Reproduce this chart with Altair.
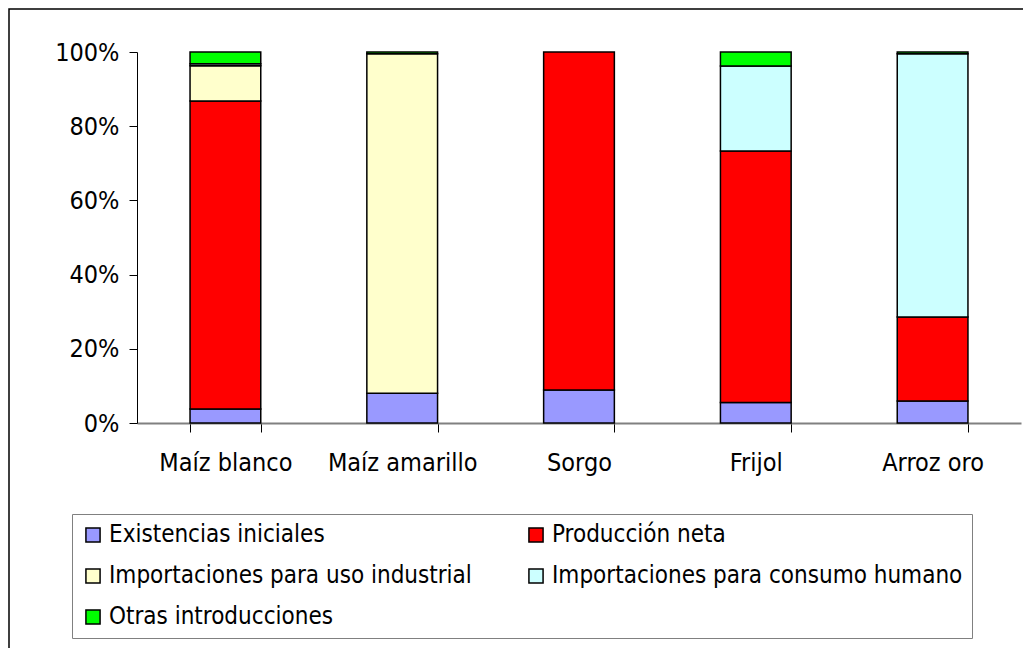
import altair as alt
import pandas as pd

categories = ["Maíz blanco", "Maíz amarillo", "Sorgo", "Frijol", "Arroz oro"]
series = ["Existencias iniciales", "Producción neta", "Importaciones para uso industrial",
          "Importaciones para consumo humano", "Otras introducciones"]
colors = ["#9999FF", "#FF0000", "#FFFFCC", "#CCFFFF", "#00FF00"]
# legend is filled column by column: this order reproduces the reference's row-wise reading
legend_order = [0, 2, 4, 1, 3]

existencias = [3.8, 8.0, 8.9, 5.5, 5.9]
produccion = [83.0, 0.0, 91.1, 67.8, 22.7]
imp_industrial = [9.5, 91.5, 0.0, 0.0, 0.0]
imp_humano = [0.5, 0.0, 0.0, 22.9, 70.9]
otras = [3.2, 0.5, 0.0, 3.8, 0.5]

values = [existencias, produccion, imp_industrial, imp_humano, otras]
rows = []
for si, (s, vals) in enumerate(zip(series, values)):
    for c, v in zip(categories, vals):
        if v > 0:
            rows.append({"cat": c, "serie": s, "v": v, "orden": si})
df = pd.DataFrame(rows)

dom = [series[i] for i in legend_order]
rng = [colors[i] for i in legend_order]

FONT = "'Liberation Sans Narrow', 'Arial Narrow', 'DejaVu Sans Condensed', 'Liberation Sans', sans-serif"
FS = 25
LFS = 24

bars = alt.Chart(df).mark_bar(stroke="black", strokeWidth=1.5).encode(
    x=alt.X("cat:N", sort=categories, title=None,
            scale=alt.Scale(paddingInner=0.6, paddingOuter=0.3),
            axis=alt.Axis(labelAngle=0, tickBand="extent", labelFontSize=FS, labelFont=FONT,
                          labelColor="black", domainColor="#808080", domainWidth=2,
                          tickColor="black", tickSize=9, labelPadding=18)),
    y=alt.Y("v:Q", stack="normalize", title=None,
            axis=alt.Axis(values=[0, 0.2, 0.4, 0.6, 0.8, 1.0], format=".0%", grid=False,
                          labelFontSize=FS, labelFont=FONT, labelColor="black",
                          domainColor="black", tickColor="black", tickSize=8, labelPadding=10)),
    color=alt.Color("serie:N",
                    scale=alt.Scale(domain=dom, range=rng),
                    legend=alt.Legend(title=None, orient="none", legendX=-65, legendY=462,
                                      columns=2, columnPadding=52, rowPadding=17,
                                      symbolType="square", symbolSize=200,
                                      symbolStrokeColor="black", symbolStrokeWidth=1.5,
                                      labelFontSize=LFS, labelFont=FONT, labelColor="black",
                                      labelLimit=600, padding=9, strokeColor="#808080",
                                      fillColor="white")),
    order=alt.Order("orden:Q", sort="ascending"),
)

frame = alt.Chart(pd.DataFrame({"a": [0]})).mark_rect(fill=None, stroke="black", strokeWidth=1.5).encode(
    x=alt.value(-128), x2=alt.value(900), y=alt.value(-43), y2=alt.value(620)
)

chart = alt.layer(frame, bars).properties(
    width=884, height=371,
    autosize=alt.AutoSizeParams(type="none"),
    padding={"left": 129, "top": 44, "right": 2, "bottom": 225},
).configure_view(stroke=None)

chart.save("out.html", embed_options={"renderer": "svg", "actions": False})
